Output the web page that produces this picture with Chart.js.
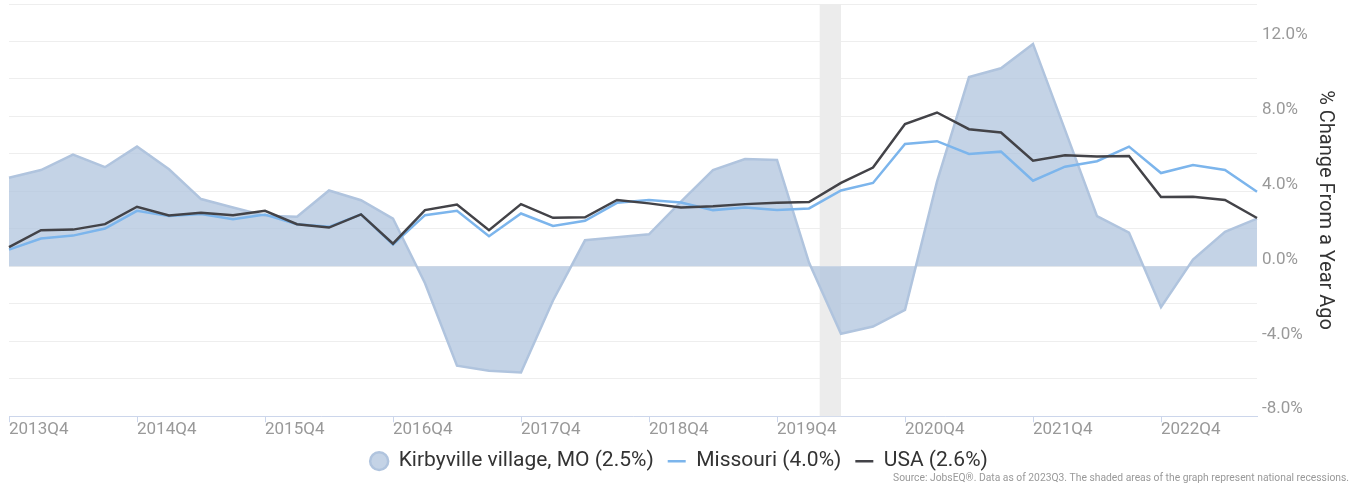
<!DOCTYPE html>
<html>
<head>
<meta charset="utf-8">
<script src="https://cdn.jsdelivr.net/npm/chart.js@4.4.0/dist/chart.umd.min.js"></script>
<style>
    html, body { margin: 0; padding: 0; background: #fff; }
    #wrap { width: 1349px; height: 486px; position: relative; }
</style>
</head>
<body>
<div id="wrap"><canvas id="chart"></canvas></div>
<script>
// Quarters on the x axis
const quarters = [
    '2013Q4',
    '2014Q1', '2014Q2', '2014Q3', '2014Q4',
    '2015Q1', '2015Q2', '2015Q3', '2015Q4',
    '2016Q1', '2016Q2', '2016Q3', '2016Q4',
    '2017Q1', '2017Q2', '2017Q3', '2017Q4',
    '2018Q1', '2018Q2', '2018Q3', '2018Q4',
    '2019Q1', '2019Q2', '2019Q3', '2019Q4',
    '2020Q1', '2020Q2', '2020Q3', '2020Q4',
    '2021Q1', '2021Q2', '2021Q3', '2021Q4',
    '2022Q1', '2022Q2', '2022Q3', '2022Q4',
    '2023Q1', '2023Q2', '2023Q3'
];

// % change from a year ago
const kirbyville = [
    4.73, 5.14, 5.96, 5.29, 6.39, 5.18, 3.59, 3.14, 2.7, 2.65,
    4.05, 3.53, 2.55, -0.9, -5.3, -5.57, -5.66, -1.82, 1.39, 1.55,
    1.71, 3.45, 5.14, 5.73, 5.68, 0.2, -3.6, -3.21, -2.32, 4.52,
    10.1, 10.57, 11.87, 7.28, 2.68, 1.8, -2.18, 0.36, 1.84, 2.55
];
const missouri = [
    0.89, 1.48, 1.64, 2.02, 2.96, 2.68, 2.79, 2.52, 2.77, 2.25,
    2.11, 2.77, 1.16, 2.73, 2.96, 1.61, 2.82, 2.16, 2.43, 3.39,
    3.54, 3.41, 3.0, 3.14, 3.0, 3.09, 4.05, 4.45, 6.53, 6.68,
    6.0, 6.12, 4.57, 5.32, 5.61, 6.39, 4.98, 5.41, 5.14, 3.98
];
const usa = [
    1.03, 1.93, 1.96, 2.25, 3.18, 2.71, 2.86, 2.73, 2.96, 2.25,
    2.07, 2.77, 1.21, 3.0, 3.3, 1.93, 3.32, 2.59, 2.62, 3.54,
    3.36, 3.14, 3.21, 3.32, 3.39, 3.43, 4.45, 5.27, 7.59, 8.21,
    7.32, 7.14, 5.64, 5.93, 5.86, 5.89, 3.7, 3.71, 3.54, 2.58
];

const seriesNames = ['Kirbyville village, MO (2.5%)', 'Missouri (4.0%)', 'USA (2.6%)'];

// National recession (months)
const recession = ['2020-02', '2020-04'];

const sourceText = 'Source: JobsEQ\u00AE. Data as of 2023Q3. The shaded areas of the graph represent national recessions.';

// month -> fractional quarter index
function monthToIndex(ym) {
    const [y, m] = ym.split('-').map(Number);
    const q = Math.ceil(m / 3);
    return quarters.indexOf(y + 'Q' + q) + ((m - 1) % 3) / 3;
}

const recessionBand = {
    id: 'recessionBand',
    beforeDatasetsDraw(chart) {
        const { ctx, chartArea, scales: { x } } = chart;
        const x0 = x.getPixelForValue(monthToIndex(recession[0]));
        const x1 = x.getPixelForValue(monthToIndex(recession[1]));
        ctx.save();
        ctx.fillStyle = '#ececec';
        ctx.fillRect(x0, chartArea.top, x1 - x0, chartArea.bottom - chartArea.top);
        ctx.restore();
    }
};

const font = 'Roboto';

new Chart(document.getElementById('chart'), {
    type: 'line',
    data: {
        labels: quarters,
        datasets: [
            {
                label: seriesNames[0],
                data: kirbyville,
                borderColor: '#b0c4de',
                backgroundColor: 'rgba(176, 196, 222, 0.75)',
                borderWidth: 2.5,
                fill: 'origin',
                pointRadius: 0,
                pointStyle: 'circle',
                tension: 0,
                order: 3
            },
            {
                label: seriesNames[1],
                data: missouri,
                borderColor: '#7cb5ec',
                backgroundColor: '#7cb5ec',
                borderWidth: 2.5,
                fill: false,
                pointRadius: 0,
                pointStyle: 'line',
                tension: 0,
                order: 2
            },
            {
                label: seriesNames[2],
                data: usa,
                borderColor: '#434348',
                backgroundColor: '#434348',
                borderWidth: 2.5,
                fill: false,
                pointRadius: 0,
                pointStyle: 'line',
                tension: 0,
                order: 1
            }
        ]
    },
    options: {
        responsive: true,
        maintainAspectRatio: false,
        animation: false,
        layout: { padding: { top: 4, left: 9, right: 0, bottom: 0 } },
        plugins: {
            legend: {
                position: 'bottom',
                labels: {
                    usePointStyle: true,
                    pointStyleWidth: 18,
                    boxHeight: 12.7,
                    padding: 14,
                    color: '#333333',
                    font: { family: font, size: 21, lineHeight: 1 },
                    sort: (a, b) => a.datasetIndex - b.datasetIndex
                }
            },
            subtitle: {
                display: true,
                position: 'bottom',
                align: 'end',
                text: sourceText,
                color: '#999999',
                font: { family: font, size: 10.3 },
                padding: { top: -9, bottom: 1 }
            },
            tooltip: { enabled: false }
        },
        scales: {
            x: {
                grid: {
                    drawOnChartArea: false,
                    drawTicks: true,
                    tickLength: 6,
                    color: '#ccd6eb'
                },
                border: { display: true, color: '#ccd6eb', width: 1 },
                ticks: {
                    autoSkip: false,
                    maxRotation: 0,
                    align: 'start',
                    padding: -3,
                    color: '#999999',
                    font: { family: font, size: 17 },
                    callback: (v, i) => (i % 4 === 0 ? quarters[i] : null)
                }
            },
            y: {
                position: 'right',
                min: -8,
                max: 14,
                afterFit(scale) {
                    scale.width = 92;
                    scale.paddingTop = 0;
                },
                grid: { color: '#eeeeee', drawTicks: false },
                border: { display: false },
                ticks: {
                    stepSize: 2,
                    padding: 5,
                    color: '#999999',
                    font: { family: font, size: 17, lineHeight: '14px' },
                    callback: v => (v % 4 === 0 ? [v.toFixed(1) + '%', ''] : '')
                },
                title: {
                    display: true,
                    text: '% Change From a Year Ago',
                    color: '#333333',
                    font: { family: font, size: 20 },
                    padding: { top: 12, bottom: 0 }
                }
            }
        }
    },
    plugins: [recessionBand]
});
</script>
</body>
</html>
